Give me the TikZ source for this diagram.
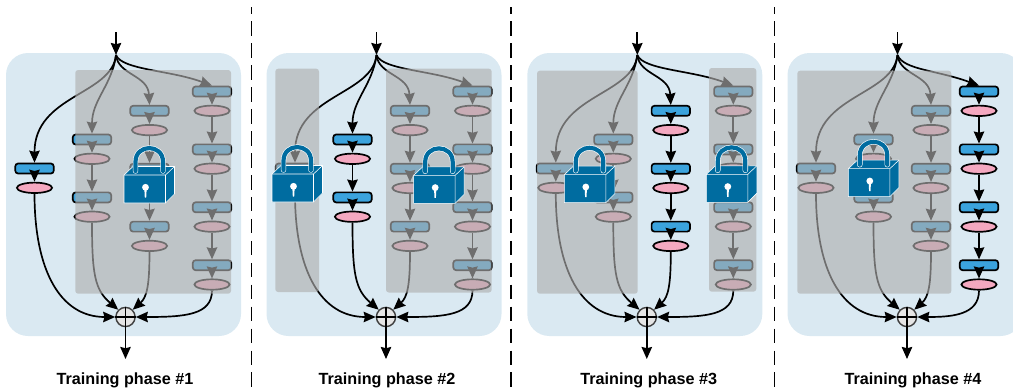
\documentclass[tikz,border=0pt]{standalone}
\usepackage{fontspec}
\setmainfont{Liberation Sans}
\usetikzlibrary{arrows.meta}
\usetikzlibrary{shapes.geometric}

\definecolor{panelblue}{HTML}{DAE9F2}
\definecolor{blockblue}{HTML}{3BA3DD}
\definecolor{blockpink}{HTML}{F4A8C0}
\definecolor{lockblue}{HTML}{006CA0}
\definecolor{shadegray}{HTML}{AFAFAF}

\tikzset{
    blk/.style={draw, line width=1.2pt, rounded corners=2pt, fill=blockblue, inner sep=0pt, minimum width=0.96cm, minimum height=0.25cm},
    ell/.style={draw, line width=1.2pt, ellipse, fill=blockpink, inner sep=0pt, minimum width=0.88cm, minimum height=0.26cm},
    conn/.style={line width=1.2pt, -{Stealth[length=3mm,width=2.6mm,inset=0.3mm]}},
    sumnode/.style={draw=black!75, line width=1pt, circle, fill=black!10, inner sep=0pt, minimum size=0.48cm},
    phase/.style={font=\fontsize{11.5}{14}\selectfont\bfseries},
    shade/.style={fill=shadegray, fill opacity=0.63, rounded corners=2pt},
    sep/.style={line width=1.1pt, dash pattern=on 10.3pt off 5.3pt, dash phase=5.3pt},
}

% front top left corner of the lock at #1,#2
\newcommand{\lockicon}[2]{
    \begin{scope}[shift={(#1,#2)}]
        \draw[white, line width=0.4pt, fill=lockblue, line join=round] (0,0) -- (9,-8.5) -- (50.5,-8.5) -- (50.5,19) -- (41.5,28) -- (0,28) -- cycle;
        \draw[white, line width=0.4pt] (0,0) -- (41.5,0) -- (41.5,28) (41.5,0) -- (50.5,-8.5);
        \draw[white, line width=0.135cm, line cap=round] (11.5,-4) -- (11.5,-13.25) .. controls (11.5,-31.5) and (39,-31.5) .. (39,-13.25) -- (39,-4);
        \draw[lockblue, line width=0.105cm, line cap=round] (11.5,-4) -- (11.5,-13.25) .. controls (11.5,-31.5) and (39,-31.5) .. (39,-13.25) -- (39,-4);
        \fill[white] (21.5,12.3) circle[radius=0.85mm];
        \fill[white] (20.3,13) -- (22.7,13) -- (22.2,22.5) -- (20.8,22.5) -- cycle;
    \end{scope}
}

\begin{document}
\begin{tikzpicture}[x=0.025cm, y=-0.025cm]
    \useasboundingbox (0,0) rectangle (1013,390);
    \clip (0,0) rectangle (1013,390);

    \foreach \p/\dx/\q in {1/0/212, 2/260.5/212, 3/521.3/212, 4/781.5/197.5} {
        \begin{scope}[shift={(\dx,0)}]
            \fill[panelblue, rounded corners=0.55cm] (6,53) rectangle (241,336);
            \foreach \col/\cx/\num/\ystart in {1/34.5/1/168.5, 2/92/2/139.5, 3/149.5/3/110.8, 4/\q/4/91.5} {
                \foreach \lay in {1,...,\num} {
                    \pgfmathsetmacro\y{\ystart+(\lay-1)*57.9}
                    \node[blk] (blk\p\col\lay) at (\cx,\y) {};
                    \node[ell] (ell\p\col\lay) at (\cx,\y+19.3) {};
                    \draw[conn] (blk\p\col\lay) -- (ell\p\col\lay);
                }
            }
            \foreach \col/\a/\b in {2/1/2, 3/1/2, 3/2/3, 4/1/2, 4/2/3, 4/3/4}
                \draw[conn] (ell\p\col\a) -- (blk\p\col\b);

            \coordinate (apex\p) at (116,55);
            \coordinate (start\p) at (116,32);
            \coordinate (end\p) at (125.5,359);
            \node[sumnode] (sum\p) at (125.5,317) {};
            \draw[line width=1pt] (sum\p.north) -- (sum\p.south) (sum\p.west) -- (sum\p.east);

            \draw[conn] (start\p) -- (apex\p);
            \draw[conn] (sum\p) -- (end\p);

            \draw[conn] (apex\p) .. controls (112,95) and (34.5,95) .. (blk\p11.north);
            \draw[conn] (apex\p) .. controls (112,85) and (92,100) .. (blk\p21.north);
            \draw[conn] (apex\p) .. controls (118,75) and (148,75) .. (blk\p31.north);
            \draw[conn] (apex\p) .. controls (122,70) and ({\q-42},70) .. (blk\p41.north);

            \draw[conn] (ell\p11) .. controls (34.5,270) and (60,317) .. (sum\p.west);
            \draw[conn] (ell\p22) .. controls (92,275) and (95,290) .. (sum\p.135);
            \draw[conn] (ell\p33) .. controls (149.5,285) and (147,297) .. (sum\p.45);
            \draw[conn] (ell\p44) .. controls ({\q},315) and ({\q-27},317) .. (sum\p.east);
        \end{scope}
    }

    % shaded parts
    \fill[shade] (75.3,70) rectangle (231,293.7);
    \fill[shade] (275.3,68.7) rectangle (319,292);
    \fill[shade] (386,68.7) rectangle (491.7,292.5);
    \fill[shade] (537,70.7) rectangle (637.7,293.7);
    \fill[shade] (709,68) rectangle (756.3,291.7);
    \fill[shade] (797.3,70.7) rectangle (951.3,293.7);

    \lockicon{124}{175}
    \lockicon{272}{174}
    \lockicon{413.7}{175.3}
    \lockicon{564.3}{174.7}
    \lockicon{706.3}{174.3}
    \lockicon{848.3}{168.7}

    \draw[sep] (251.5,7) -- (251.5,390);
    \draw[sep] (511,7) -- (511,390);
    \draw[sep] (774.5,7) -- (774.5,390);

    \node[phase] (phase1) at (125,380) {Training phase \#1};
    \node[phase] (phase2) at (387,380) {Training phase \#2};
    \node[phase] (phase3) at (648.7,380) {Training phase \#3};
    \node[phase] (phase4) at (913,380) {Training phase \#4};
\end{tikzpicture}
\end{document}
